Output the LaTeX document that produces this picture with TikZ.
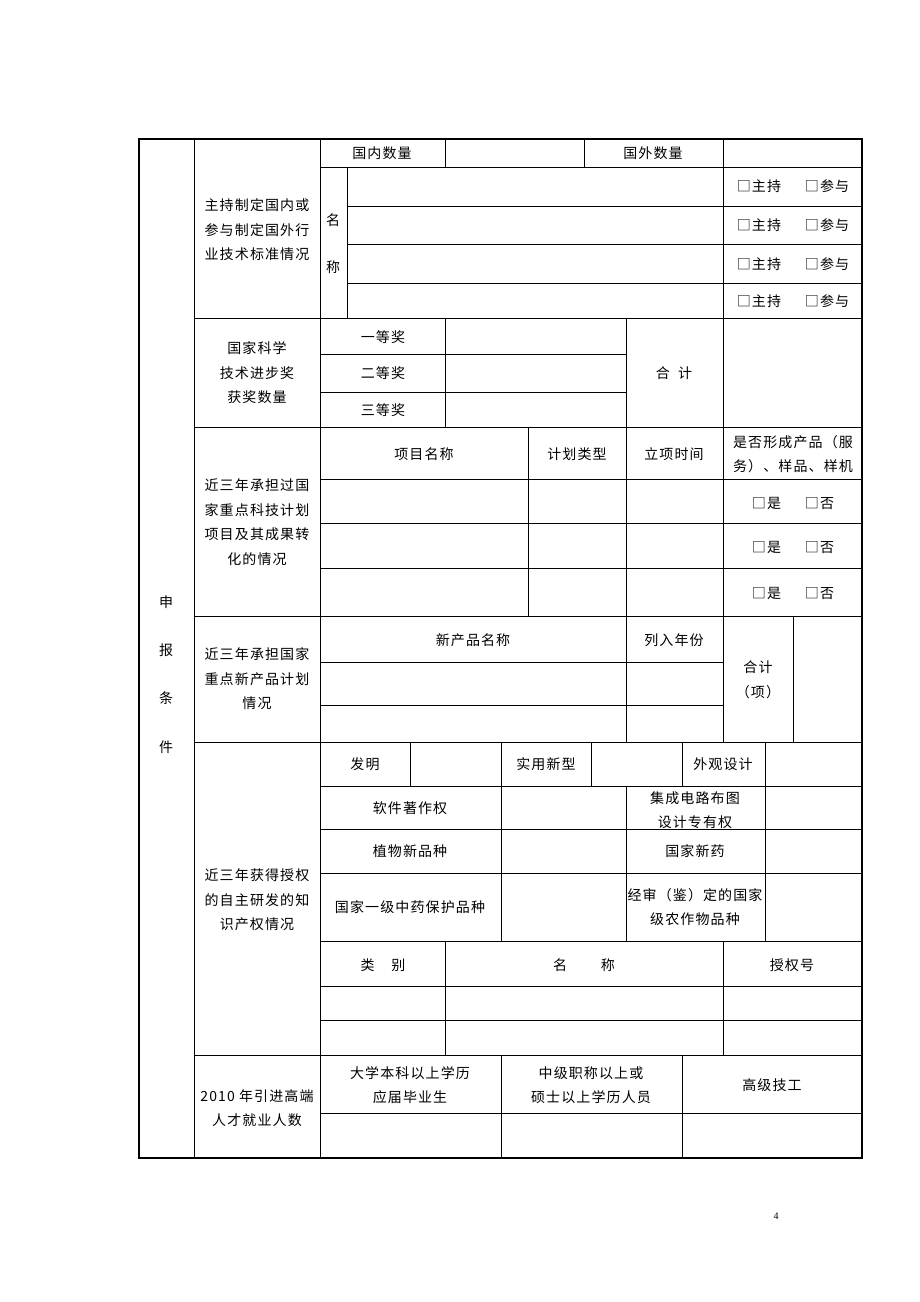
\documentclass[tikz,border=0pt]{standalone}
\usepackage{fontspec}
\setmainfont{Liberation Serif}
\newfontfamily\cjk[LetterSpace=8]{Noto Sans CJK SC}
\tikzstyle{cell} = [font=\cjk\fontsize{14}{24.5}\selectfont, align=center, inner sep=0pt]
\tikzstyle{grid} = [draw, line width=0.9pt]
\tikzstyle{frame} = [draw, line width=2pt]

\begin{document}
\begin{tikzpicture}[x=1pt, y=-1pt]
        \useasboundingbox (0,0) rectangle (920,1302);
        % outer frame and main columns
        \draw[frame] (139,139) rectangle (862,1158);
        \draw[grid] (194,139) -- (194,1158);
        \draw[grid] (320,139) -- (320,1158);
        \foreach \y in {318,427,616,742,1055} \draw[grid] (194,\y) -- (862,\y);
        % standards
        \draw[grid] (320,167) -- (862,167);
        \foreach \y in {206,244,283} \draw[grid] (347,\y) -- (862,\y);
        \draw[grid] (347,167) -- (347,318);
        \draw[grid] (445,139) -- (445,167);
        \draw[grid] (584,139) -- (584,167);
        \draw[grid] (723,139) -- (723,318);
        % awards
        \foreach \y in {354,392} \draw[grid] (320,\y) -- (626,\y);
        \foreach \x in {445,626,723} \draw[grid] (\x,318) -- (\x,427);
        % key projects
        \foreach \y in {479,523,568} \draw[grid] (320,\y) -- (862,\y);
        \foreach \x in {528,626,723} \draw[grid] (\x,427) -- (\x,616);
        % new products
        \foreach \y in {662,705} \draw[grid] (320,\y) -- (723,\y);
        \foreach \x in {626,723,793} \draw[grid] (\x,616) -- (\x,742);
        % property rights
        \foreach \y in {786,829,873,941,986,1020} \draw[grid] (320,\y) -- (862,\y);
        \foreach \x in {410,501,591,682,765} \draw[grid] (\x,742) -- (\x,786);
        \foreach \x in {501,626,765} \draw[grid] (\x,786) -- (\x,941);
        \foreach \x in {445,723} \draw[grid] (\x,941) -- (\x,1055);
        % talents
        \draw[grid] (320,1113) -- (862,1113);
        \foreach \x in {501,682} \draw[grid] (\x,1055) -- (\x,1158);

        % side title
        \foreach \c/\y [count=\i] in {申/602,报/650,条/698,件/747}
            \node[cell] (side\i) at (166,\y) {\c};

        % standards
        \node[cell] (stdtitle) at (257,230) {主持制定国内或\\参与制定国外行\\业技术标准情况};
        \node[cell] (domestic) at (382,153) {国内数量};
        \node[cell] (foreign) at (653,153) {国外数量};
        \node[cell] (ming) at (333,220) {名};
        \node[cell] (cheng) at (333,267) {称};
        \foreach \y [count=\i] in {186,225,264,301}
            \node[cell] (role\i) at (793,\y) {□主持\hspace{1.7em}□参与};

        % awards
        \node[cell] (awardtitle) at (257,373) {国家科学\\技术进步奖\\获奖数量};
        \node[cell] (first) at (383,337) {一等奖};
        \node[cell] (second) at (383,373) {二等奖};
        \node[cell] (third) at (383,410) {三等奖};
        \node[cell] (awardsum) at (674,373) {合\hspace{0.6em}计};

        % key projects
        \node[cell] (projtitle) at (257,522) {近三年承担过国\\家重点科技计划\\项目及其成果转\\化的情况};
        \node[cell] (projname) at (424,454) {项目名称};
        \node[cell] (projtype) at (577,454) {计划类型};
        \node[cell] (projtime) at (674,454) {立项时间};
        \node[cell] (projresult) at (793,454) {是否形成产品（服\\务）、样品、样机};
        \foreach \y [count=\i] in {503,547,593}
            \node[cell] (yesno\i) at (793,\y) {□是\hspace{1.7em}□否};

        % new products
        \node[cell] (prodtitle) at (257,679) {近三年承担国家\\重点新产品计划\\情况};
        \node[cell] (prodname) at (473,640) {新产品名称};
        \node[cell] (prodyear) at (674,640) {列入年份};
        \node[cell] (prodsum) at (758,680) {合计\\（项）};

        % property rights
        \node[cell] (iptitle) at (257,900) {近三年获得授权\\的自主研发的知\\识产权情况};
        \node[cell] (invent) at (365,764) {发明};
        \node[cell] (utility) at (546,764) {实用新型};
        \node[cell] (design) at (723,764) {外观设计};
        \node[cell] (software) at (410,808) {软件著作权};
        \node[cell] (circuit) at (695,810) {集成电路布图\\设计专有权};
        \node[cell] (plant) at (410,851) {植物新品种};
        \node[cell] (drug) at (695,851) {国家新药};
        \node[cell] (herbal) at (410,907) {国家一级中药保护品种};
        \node[cell] (crop) at (695,907) {经审（鉴）定的国家\\级农作物品种};
        \node[cell] (kind) at (383,965) {类\hspace{1.2em}别};
        \node[cell] (name) at (584,965) {名\hspace{2.4em}称};
        \node[cell] (grant) at (792,965) {授权号};

        % talents
        \node[cell] (talenttitle) at (257,1108) {2010 年引进高端\\人才就业人数};
        \node[cell] (graduate) at (410,1085) {大学本科以上学历\\应届毕业生};
        \node[cell] (master) at (591,1085) {中级职称以上或\\硕士以上学历人员};
        \node[cell] (senior) at (772,1085) {高级技工};

        \node[font=\fontsize{10}{12}\selectfont] (pageno) at (776,1216) {4};
    \end{tikzpicture}
\end{document}
